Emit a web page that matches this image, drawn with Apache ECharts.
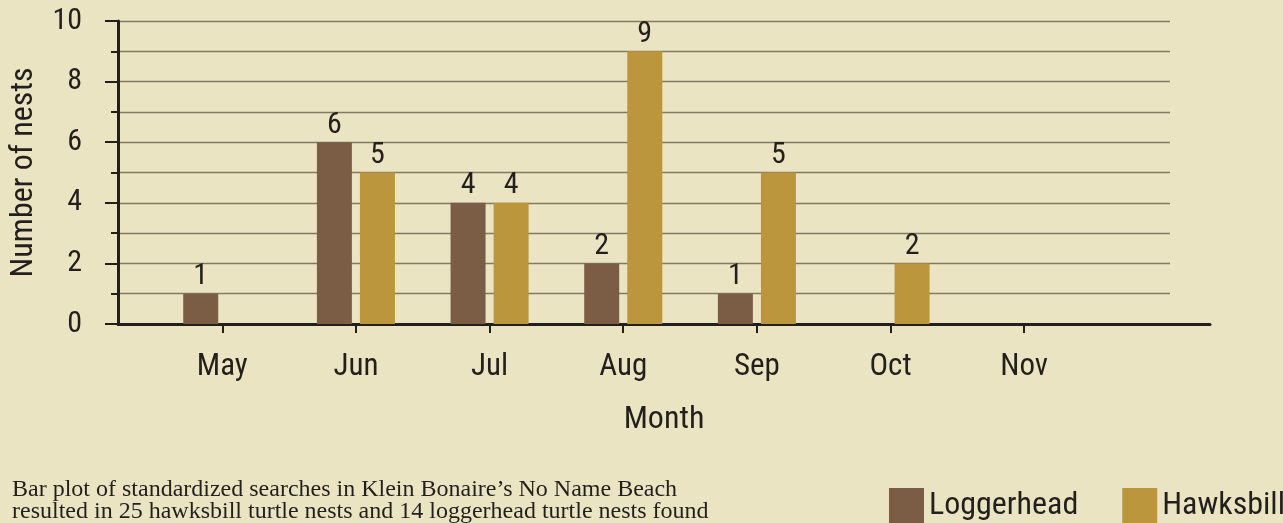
<!DOCTYPE html>
<html>
<head>
<meta charset="utf-8">
<script src="https://cdn.jsdelivr.net/npm/echarts@6/dist/echarts.min.js"></script>
<style>
html,body{margin:0;padding:0;background:#ebe4c2;}
#chart{width:1283px;height:523px;}
</style>
</head>
<body>
<div id="chart"></div>
<script>
const months = ['May', 'Jun', 'Jul', 'Aug', 'Sep', 'Oct', 'Nov'];
const loggerhead = [1, 6, 4, 2, 1, 0, 0];
const hawksbill = [0, 5, 4, 9, 5, 2, 0];
const yTickLabels = [0, 2, 4, 6, 8, 10];
const caption = 'Bar plot of standardized searches in Klein Bonaire\u2019s No Name Beach\nresulted in 25 hawksbill turtle nests and 14 loggerhead turtle nests found';

const FONT = "'Roboto Condensed','Liberation Sans Narrow','DejaVu Sans Condensed','Arial Narrow',Roboto,sans-serif";
const INK = '#231f1c';
const monthIdx = months.map((m, i) => i);

const chart = echarts.init(document.getElementById('chart'));
chart.setOption({
  backgroundColor: '#ebe4c2',
  animation: false,
  textStyle: { fontFamily: FONT, color: INK },
  title: {
    text: caption,
    left: 7, top: 474,
    textStyle: { fontFamily: "'Liberation Serif','Times New Roman',serif", fontWeight: 'normal', fontSize: 24, lineHeight: 22, color: INK }
  },
  legend: {
    left: 884, top: 483, width: 420,
    itemWidth: 35, itemHeight: 35, itemGap: 44,
    icon: 'rect',
    textStyle: { fontFamily: FONT, fontSize: 32, color: INK },
    data: ['Loggerhead', 'Hawksbill']
  },
  grid: [
    { left: 116, right: 73, top: 21, bottom: 199 },
    { left: 120, right: 113, top: 21, bottom: 199 }
  ],
  xAxis: [
    {
      type: 'value', gridIndex: 0,
      min: -0.78, max: 7.39,
      splitLine: { show: false },
      axisLine: { show: true, onZero: false, lineStyle: { color: INK, width: 3 } },
      axisTick: { show: true, customValues: monthIdx, length: 9, lineStyle: { color: INK, width: 2 } },
      axisLabel: { customValues: monthIdx, formatter: v => months[v], fontSize: 31, color: INK, margin: 28, fontFamily: FONT },
      name: 'Month', nameLocation: 'middle', nameGap: 80,
      nameTextStyle: { fontSize: 32, color: INK, fontFamily: FONT }
    },
    { type: 'value', gridIndex: 1, min: 0, max: 1, show: false }
  ],
  yAxis: [
    {
      type: 'value', gridIndex: 0, min: 0, max: 10, interval: 2,
      splitLine: { show: false },
      axisLine: { show: true, onZero: false, lineStyle: { color: INK, width: 3 } },
      axisTick: { show: true, length: 13, lineStyle: { color: INK, width: 2 } },
      minorTick: { show: true, splitNumber: 2, length: 7, lineStyle: { color: INK, width: 2 } },
      axisLabel: { fontSize: 30, color: INK, margin: 36, fontFamily: FONT,
        formatter: v => yTickLabels.indexOf(v) >= 0 ? String(v) : '' },
      name: 'Number of nests', nameLocation: 'middle', nameGap: 78,
      nameTextStyle: { fontSize: 32, color: INK, fontFamily: FONT }
    },
    {
      type: 'value', gridIndex: 1, min: 0, max: 10, interval: 1,
      axisLine: { show: false }, axisTick: { show: false }, axisLabel: { show: false },
      splitLine: { show: true, lineStyle: { color: '#7f7a63', width: 1.4 } }
    }
  ],
  series: [
    {
      name: 'Loggerhead', type: 'bar', xAxisIndex: 0, yAxisIndex: 0,
      barWidth: 35, barGap: '23%',
      itemStyle: { color: '#7b5c44' },
      label: { show: true, position: 'top', distance: 2, fontSize: 30, color: INK, fontFamily: FONT,
        formatter: p => p.value[1] === 0 ? '' : String(p.value[1]) },
      data: loggerhead.map((v, i) => [i, v])
    },
    {
      name: 'Hawksbill', type: 'bar', xAxisIndex: 0, yAxisIndex: 0,
      barWidth: 35, barGap: '23%',
      itemStyle: { color: '#bb963c' },
      label: { show: true, position: 'top', distance: 2, fontSize: 30, color: INK, fontFamily: FONT,
        formatter: p => p.value[1] === 0 ? '' : String(p.value[1]) },
      data: hawksbill.map((v, i) => [i, v])
    }
  ]
});
</script>
</body>
</html>
